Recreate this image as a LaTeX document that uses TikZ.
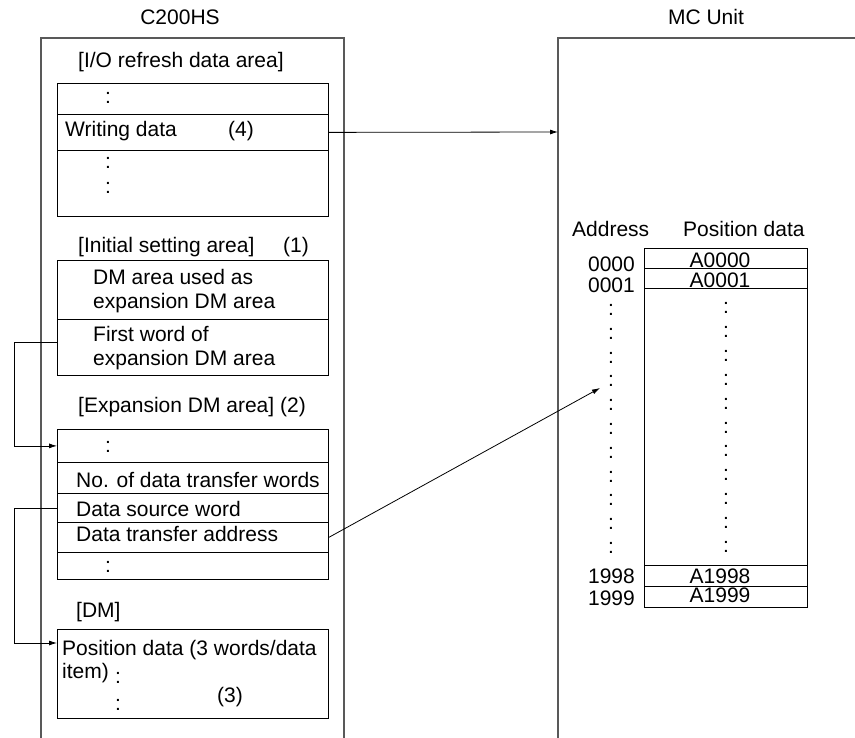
\documentclass[tikz,border=0pt]{standalone}
\usepackage{fontspec}
\setmainfont{Liberation Sans}
\usetikzlibrary{arrows.meta}
\begin{document}
\begin{tikzpicture}[x=1pt,y=-1pt,
  every node/.style={font=\fontsize{21}{25}\selectfont, inner sep=0pt},
  frame/.style={draw=black!65, line width=1.1pt},
  row/.style={draw, line width=0.8pt, minimum width=271pt, anchor=north west},
  trow/.style={draw, line width=0.8pt, minimum width=163pt, anchor=north west},
  lbl/.style={anchor=base west},
  dotc/.style={anchor=center},
  conn/.style={line width=0.8pt},
  arr/.style={line width=0.8pt, -{Latex[length=8pt,width=5pt]}}]
\useasboundingbox (0,0) rectangle (855,738);
% outer frames
\draw[frame] (41,738) -- (41,38) -- (344,38) -- (344,738);
\draw[frame] (558,738) -- (558,38) -- (855,38);
\node[anchor=base] (tC) at (180,25) {C200HS};
\node[anchor=base] (tM) at (706,25) {MC Unit};
% I/O refresh data area
\node[lbl] (l1) at (78,68) {[I/O refresh data area]};
\node[row, minimum height=31pt] (r1a) at (57,83) {};
\node[row, minimum height=36pt] (r1b) at (57,114) {};
\node[row, minimum height=66pt] (r1c) at (57,150) {};
\node[dotc] (d1a) at (108,98) {:};
\node[lbl] (w1) at (65,137) {Writing data};
\node[lbl] (n4) at (228,137) {(4)};
\node[dotc] (d1b) at (108,163) {:};
\node[dotc] (d1c) at (108,188) {:};
% Initial setting area
\node[lbl] (l2) at (78,253) {[Initial setting area]};
\node[lbl] (n1) at (283,253) {(1)};
\node[row, minimum height=59pt] (r2a) at (57,260) {};
\node[row, minimum height=56pt] (r2b) at (57,319) {};
\node[lbl] (t2a) at (93,285) {DM area used as};
\node[lbl] (t2b) at (93,309) {expansion DM area};
\node[lbl] (t2c) at (93,342) {First word of};
\node[lbl] (t2d) at (93,366) {expansion DM area};
% Expansion DM area
\node[lbl] (l3) at (78,413) {[Expansion DM area] (2)};
\node[row, minimum height=33pt] (r3a) at (57,429) {};
\node[row, minimum height=31pt] (r3b) at (57,462) {};
\node[row, minimum height=29pt] (r3c) at (57,493) {};
\node[row, minimum height=30pt] (r3d) at (57,522) {};
\node[row, minimum height=27pt] (r3e) at (57,552) {};
\node[dotc] (d3a) at (108,447) {:};
\node[lbl] (t3b) at (76,487) {No. of data transfer words};
\node[lbl] (t3c) at (76,516) {Data source word};
\node[lbl] (t3d) at (76,541) {Data transfer address};
\node[dotc] (d3e) at (108,567) {:};
% DM
\node[lbl] (l4) at (76,617) {[DM]};
\node[row, minimum height=89pt] (r4) at (57,629) {};
\node[lbl] (t4a) at (62,655) {Position data (3 words/data};
\node[lbl] (t4b) at (62,678) {item)};
\node[dotc] (d4a) at (118,678) {:};
\node[dotc] (d4b) at (118,705) {:};
\node[lbl] (n3) at (217,702) {(3)};
% MC Unit table
\node[anchor=base west] (ha) at (572,237) {Address};
\node[anchor=base west] (hp) at (683,237) {Position data};
\node[trow, minimum height=20pt] (t0) at (644,248) {};
\node[trow, minimum height=20pt] (t1) at (644,268) {};
\node[trow, minimum height=277pt] (tm) at (644,288) {};
\node[trow, minimum height=21pt] (t8) at (644,565) {};
\node[trow, minimum height=21pt] (t9) at (644,586) {};
\node[anchor=base] (a0) at (720,268) {A0000};
\node[anchor=base] (a1) at (720,288) {A0001};
\node[anchor=base] (a8) at (720,583) {A1998};
\node[anchor=base] (a9) at (720,602) {A1999};
\node[anchor=base east] (ad0) at (635,272) {0000};
\node[anchor=base east] (ad1) at (635,293) {0001};
\node[anchor=base east] (ad8) at (635,583) {1998};
\node[anchor=base east] (ad9) at (635,605) {1999};
\foreach \i in {0,...,10} {
  \node[dotc] (da\i) at (611,310+23.8*\i) {:};
  \node[dotc] (dp\i) at (726,308+23.9*\i) {:};
}
% connectors
\coordinate (mcin) at (558,132);
\coordinate (tgt) at (600,388);
\draw[arr] (r1b.east) -- (mcin);
\draw[arr] ([yshift=5pt]r2b.west) -- ++(-43,0) |- (r3a.west);
\draw[arr] (r3c.west) -- ++(-43,0) |- ([yshift=-14pt]r4.north west);
\draw[arr] (r3d.east) -- (tgt);
\end{tikzpicture}
\end{document}
